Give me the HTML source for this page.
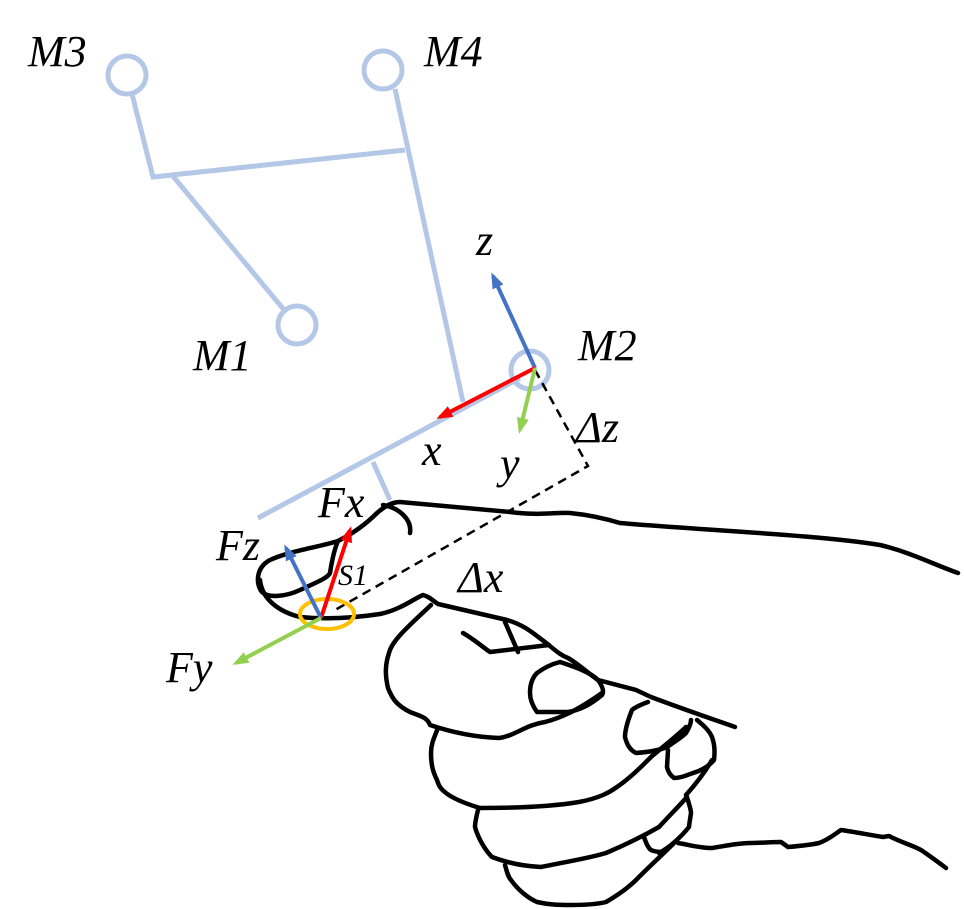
<!DOCTYPE html>
<html><head><meta charset="utf-8"><style>
html,body{margin:0;padding:0;background:#fff;}
svg{display:block;}
text{font-family:"Liberation Serif","Times New Roman","DejaVu Serif",serif;font-style:italic;fill:#000;}
</style></head><body>
<svg width="964" height="909" viewBox="0 0 964 909" xmlns="http://www.w3.org/2000/svg">
<defs>
<marker id="ar" markerWidth="16" markerHeight="12" refX="12" refY="6" orient="auto" markerUnits="userSpaceOnUse"><path d="M0,0 L16,6 L0,12 Z" fill="#ff0000"/></marker>
<marker id="ab" markerWidth="16" markerHeight="12" refX="12" refY="6" orient="auto" markerUnits="userSpaceOnUse"><path d="M0,0 L16,6 L0,12 Z" fill="#4472c4"/></marker>
<marker id="ag" markerWidth="16" markerHeight="12" refX="12" refY="6" orient="auto" markerUnits="userSpaceOnUse"><path d="M0,0 L16,6 L0,12 Z" fill="#92d050"/></marker>
</defs>
<g stroke="#b4c7e7" stroke-width="5" fill="none">
<circle cx="127" cy="75" r="19"/><circle cx="383" cy="70" r="19"/><circle cx="297" cy="325" r="19"/><circle cx="530" cy="370" r="19"/>
<path d="M132,94 L153,177 L405,150"/>
<path d="M395,89 L463,402"/>
<path d="M172,175 L285,311"/>
<path d="M258,518 L520,378"/>
<path d="M373,462 L390,500"/>
</g>
<g stroke="#000" stroke-width="4.5" fill="none" stroke-linejoin="round" stroke-linecap="round">
<path d="M338,541 C350,535 365,525 377,513 C385,506 392,502 400,502 L510,512 C540,516 555,512 570,513 C590,515 610,520 620,523 C700,530 820,535 880,545 C910,552 935,565 958,573"/>
<path d="M383,505 C400,508 412,520 410,533"/>
<path d="M338,541 C315,548 290,551 270,560 C255,568 256,585 262,592 C268,598 285,597 300,590 C315,583 328,578 330,573 C332,560 334,550 338,541"/>
<path d="M260,580 C262,600 280,612 300,617 C330,620 360,617 380,614 C400,610 415,598 423,595 C430,597 432,600 438,604 L507,620 C525,625 535,635 545,642 C555,650 560,655 568,658 C580,665 590,675 598,680 L636,690 L651,697 C680,708 715,720 735,727"/>
<path d="M431,605 C410,625 392,640 389,653 C385,665 385,675 388,688 C392,698 396,705 410,712 C420,716 427,717 430,725 C445,730 470,737 499,738 C515,736 525,725 545,722 C560,718 575,712 602,693"/>
<path d="M463,633 C475,640 480,645 490,652 L549,645"/>
<path d="M505,622 L518,652"/>
<path d="M560,662 C575,667 590,672 598,680 C603,687 604,692 602,695 C590,705 580,710 568,712 L537,712 C532,705 530,698 530,693 C530,685 532,678 537,673 C545,667 552,664 560,662"/>
<path d="M438,728 C433,740 431,745 431,753 C431,765 433,772 437,780 C439,787 442,790 446,793 C455,800 470,805 480,808 C520,808 555,806 579,802 C600,798 610,792 617,787 C630,778 640,768 651,757 C665,745 678,735 686,727"/>
<path d="M648,702 C640,705 634,708 632,710 C628,720 625,730 625,737 C627,745 630,750 636,753 C650,752 660,750 667,747 C676,741 682,737 686,733 C689,728 691,724 691,720"/>
<path d="M697,720 C703,725 709,730 712,737 C715,745 715,752 714,760 C708,767 700,771 693,773 C685,776 680,778 674,778 C670,775 668,772 667,767 L668,750"/>
<path d="M712,760 C705,772 695,785 686,795 C690,805 691,812 691,813 C690,820 689,825 689,827 C680,838 670,847 659,853"/>
<path d="M644,837 C646,843 648,848 651,850 C655,852 660,852 663,852"/>
<path d="M478,810 C476,818 475,822 475,827 C478,838 485,850 492,857 C505,862 520,866 541,867 C565,862 590,858 606,853 C625,845 645,835 659,827 C670,815 680,805 687,797"/>
<path d="M505,865 C507,872 508,877 511,880 C518,890 528,898 537,902 C550,905 560,905 571,905 C585,905 598,904 606,902 C618,895 628,888 636,880 C650,866 662,855 674,843"/>
<path d="M678,843 C690,845 700,848 712,848 C725,846 738,843 750,843 C760,843 772,842 781,842 L788,847 C800,846 810,845 819,843 C828,840 835,834 841,830 C855,832 870,835 883,837 L889,836 C900,842 912,845 921,850 C930,856 938,862 946,868"/>
</g>
<g stroke="#000" stroke-width="2.5" fill="none" stroke-dasharray="9,6">
<path d="M535,370 L588,466 L335,610"/>
</g>
<ellipse cx="327" cy="614" rx="27" ry="15" fill="none" stroke="#ffc000" stroke-width="4"/>
<g stroke-width="4" fill="none">
<line x1="535" y1="368" x2="493" y2="276" stroke="#4472c4" marker-end="url(#ab)"/>
<line x1="535" y1="368" x2="440" y2="417" stroke="#ff0000" marker-end="url(#ar)"/>
<line x1="535" y1="368" x2="520" y2="430" stroke="#92d050" marker-end="url(#ag)"/>
<line x1="321" y1="618" x2="350" y2="530" stroke="#ff0000" marker-end="url(#ar)"/>
<line x1="321" y1="618" x2="286" y2="548" stroke="#4472c4" marker-end="url(#ab)"/>
<line x1="321" y1="618" x2="236" y2="663" stroke="#92d050" marker-end="url(#ag)"/>
</g>
<g font-size="44">
<text x="28" y="66">M3</text>
<text x="424" y="66">M4</text>
<text x="193" y="370">M1</text>
<text x="578" y="360">M2</text>
<text x="476" y="255">z</text>
<text x="422" y="465">x</text>
<text x="500" y="478">y</text>
<text x="576" y="442">Δz</text>
<text x="318" y="517">Fx</text>
<text x="216" y="560">Fz</text>
<text x="458" y="592">Δx</text>
<text x="166" y="682">Fy</text>
</g>
<text x="338" y="585" font-size="30">S1</text>
</svg>
</body></html>
